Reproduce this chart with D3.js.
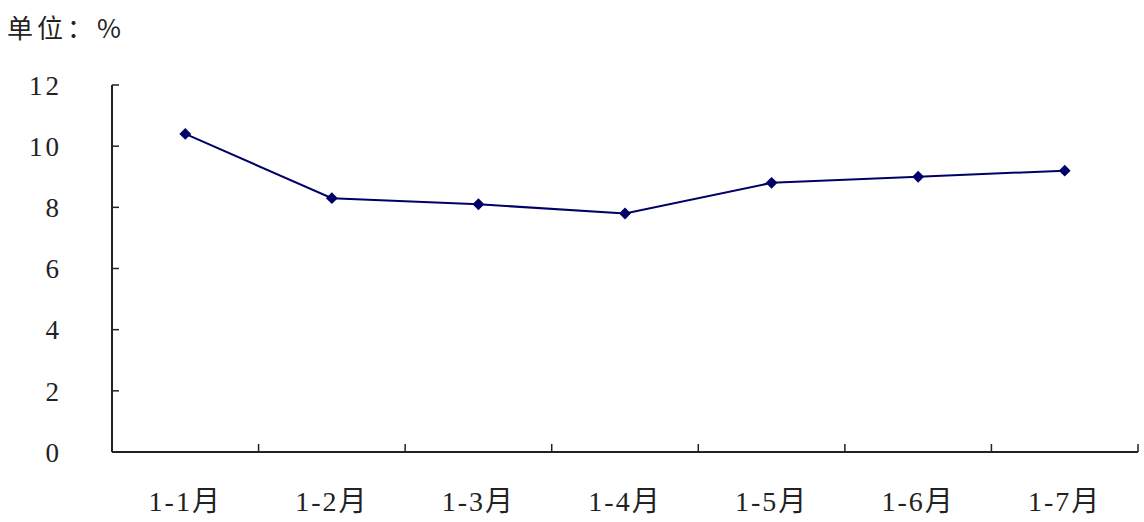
<!DOCTYPE html>
<html>
<head>
<meta charset="utf-8">
<script src="https://cdn.jsdelivr.net/npm/d3@7"></script>
<style>
  body { margin: 0; background: #fff; }
  text { font-family: "Liberation Serif", "Noto Sans CJK SC", serif; fill: #222; }
</style>
</head>
<body>
<div id="chart"></div>
<script>
// 数据
const months = ["1-1月", "1-2月", "1-3月", "1-4月", "1-5月", "1-6月", "1-7月"];
const values = [10.4, 8.3, 8.1, 7.8, 8.8, 9.0, 9.2];
const yTicks = [0, 2, 4, 6, 8, 10, 12];

const width = 1144, height = 522;
const margin = { top: 85, right: 6, bottom: 70, left: 112 };

const svg = d3.select("#chart").append("svg")
    .attr("width", width)
    .attr("height", height);

const x = d3.scaleBand().domain(months).range([margin.left, width - margin.right]);
const y = d3.scaleLinear().domain([0, 12]).range([height - margin.bottom, margin.top]);

// 单位
svg.append("text")
    .attr("x", 7).attr("y", 38)
    .attr("font-size", 26)
    .attr("letter-spacing", 4)
    .style("font-family", "'Noto Sans CJK SC', sans-serif")
    .text("单位：%");

// y 轴
svg.append("line")
    .attr("x1", margin.left).attr("x2", margin.left)
    .attr("y1", y(12)).attr("y2", y(0))
    .attr("stroke", "#222").attr("stroke-width", 2);

svg.selectAll(".ytick")
    .data(yTicks)
    .enter().append("line")
    .attr("x1", margin.left).attr("x2", margin.left + 7)
    .attr("y1", d => y(d)).attr("y2", d => y(d))
    .attr("stroke", "#222").attr("stroke-width", 1.5);

svg.selectAll(".ylabel")
    .data(yTicks)
    .enter().append("text")
    .attr("x", 62).attr("y", d => y(d))
    .attr("dy", "0.36em")
    .attr("text-anchor", "end")
    .attr("font-size", 27)
    .attr("letter-spacing", 3)
    .text(d => d);

// x 轴
svg.append("line")
    .attr("x1", margin.left).attr("x2", width - margin.right)
    .attr("y1", y(0)).attr("y2", y(0))
    .attr("stroke", "#222").attr("stroke-width", 2);

svg.selectAll(".xtick")
    .data(months)
    .enter().append("line")
    .attr("x1", d => x(d) + x.bandwidth()).attr("x2", d => x(d) + x.bandwidth())
    .attr("y1", y(0)).attr("y2", y(0) - 8)
    .attr("stroke", "#222").attr("stroke-width", 1.5);

svg.selectAll(".xlabel")
    .data(months)
    .enter().append("text")
    .attr("x", d => x(d) + x.bandwidth() / 2)
    .attr("y", 511)
    .attr("text-anchor", "middle")
    .attr("font-size", 28)
    .attr("letter-spacing", 2)
    .text(d => d);

// 折线
const line = d3.line()
    .x((d, i) => x(months[i]) + x.bandwidth() / 2)
    .y(d => y(d));

svg.append("path")
    .datum(values)
    .attr("d", line)
    .attr("fill", "none")
    .attr("stroke", "#000066")
    .attr("stroke-width", 2);

// 菱形标记
svg.selectAll(".pt")
    .data(values)
    .enter().append("path")
    .attr("transform", (d, i) => `translate(${x(months[i]) + x.bandwidth() / 2},${y(d)})`)
    .attr("d", d3.symbol().type(d3.symbolDiamond2).size(90))
    .attr("fill", "#000066");
</script>
</body>
</html>
